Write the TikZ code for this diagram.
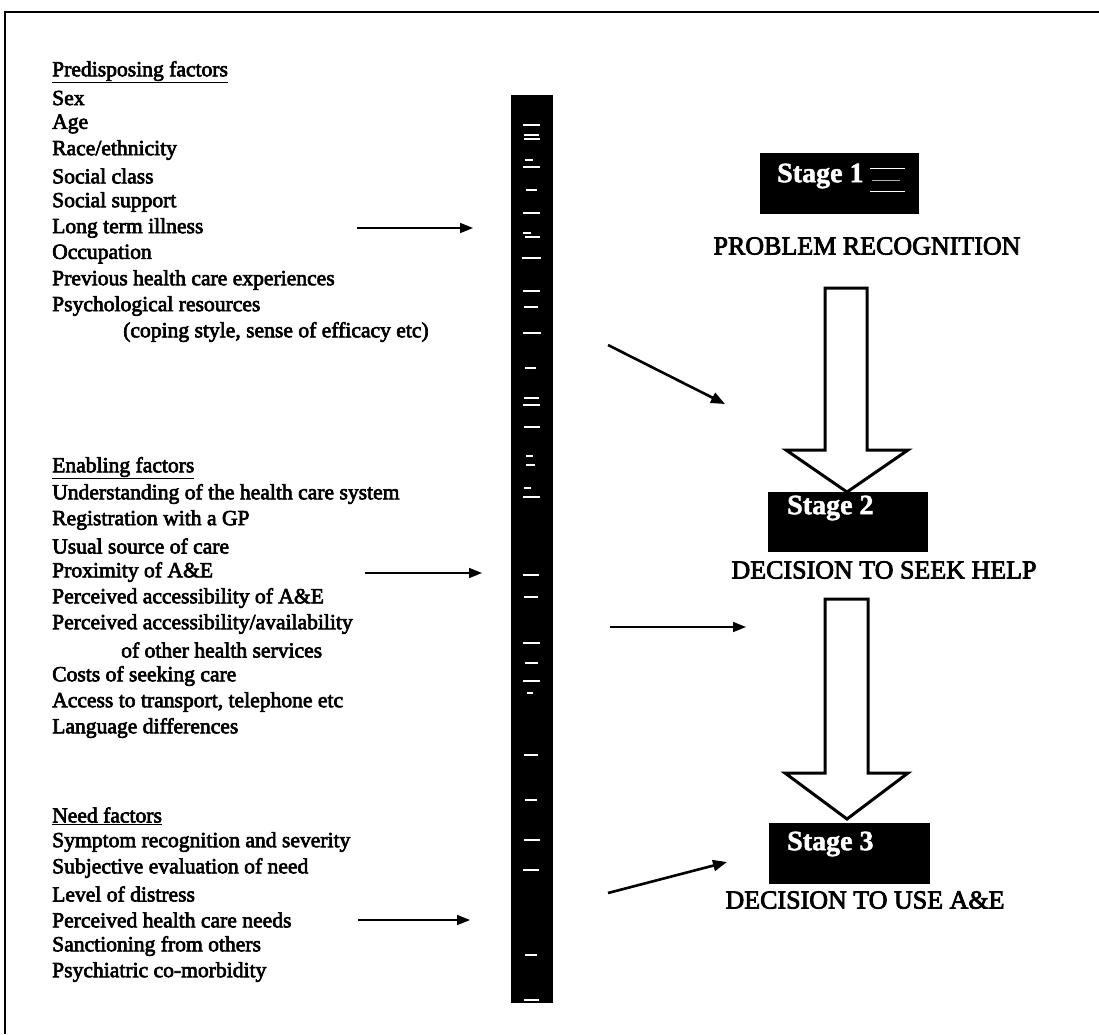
\documentclass[tikz,border=0pt]{standalone}
\usepackage{fontspec}
\setmainfont{Liberation Serif}
\newfontfamily\scanfont{Liberation Serif}[FakeBold=3]
\newfontfamily\scanbold{Liberation Serif Bold}[FakeBold=1.5]
\usetikzlibrary{arrows.meta}
\begin{document}
\begin{tikzpicture}[x=1pt,y=-1pt,
  item/.style={anchor=west, inner sep=0pt, font=\fontsize{21.6}{26}\scanfont},
  stagelabel/.style={inner sep=0pt, font=\fontsize{26}{30}\scanfont},
  stagebox/.style={fill=black, draw=black, inner sep=0pt},
  stagetext/.style={anchor=west, inner sep=0pt, text=white, font=\fontsize{28}{32}\scanbold},
  thinarrow/.style={line width=1.6pt, -{Triangle[length=13pt,width=10pt]}},
  diagarrow/.style={line width=2.6pt, -{Triangle[length=14pt,width=11pt]}},
  hollow/.style={draw=black, fill=white, line width=3pt, line join=miter},
  speck/.style={draw=white, line width=1.4pt}
]
\useasboundingbox (0,0) rectangle (1099,1034);
\fill[white] (0,0) rectangle (1099,1034);
% frame
\draw[line width=2pt] (1099,12) -- (5,12) -- (5,1034);

% central bar
\node[fill=black, inner sep=0pt, minimum width=42pt, minimum height=908pt] (bar) at (532,549) {};
\foreach \yy/\xa/\xb in {125/523/540,135/524/539,139/524/540,160/525/533,167/523/540,190/526/537,213/523/540,233/523/531,237/525/540,258/522/541,291/523/540,307/524/538,333/523/541,368/525/536,398/524/539,405/523/540,427/524/540,456/526/533,465/526/535,488/524/531,497/523/540,575/523/539,597/524/538,643/523/540,663/525/538,681/523/540,693/527/533,755/524/538,800/525/537,840/524/540,870/523/539,955/525/537,1000/524/539}
  \draw[speck] (\xa,\yy) -- (\xb,\yy);

% Predisposing factors
\node[item] (p0) at (52,72) {\underline{Predisposing factors}};
\node[item] (p1) at (52,98) {Sex};
\node[item] (p2) at (52,124) {Age};
\node[item] (p3) at (52,150) {Race/ethnicity};
\node[item] (p4) at (52,176) {Social class};
\node[item] (p5) at (52,202) {Social support};
\node[item] (p6) at (52,228) {Long term illness};
\node[item] (p7) at (52,254) {Occupation};
\node[item] (p8) at (52,280) {Previous health care experiences};
\node[item] (p9) at (52,306) {Psychological resources};
\node[item] (p10) at (123,332) {(coping style, sense of efficacy etc)};

% Enabling factors
\node[item] (e0) at (52,468) {\underline{Enabling factors}};
\node[item] (e1) at (52,494) {Understanding of the health care system};
\node[item] (e2) at (52,520) {Registration with a GP};
\node[item] (e3) at (52,546) {Usual source of care};
\node[item] (e4) at (52,572) {Proximity of A\&E};
\node[item] (e5) at (52,598) {Perceived accessibility of A\&E};
\node[item] (e6) at (52,624) {Perceived accessibility/availability};
\node[item] (e7) at (121,650) {of other health services};
\node[item] (e8) at (52,676) {Costs of seeking care};
\node[item] (e9) at (52,702) {Access to transport, telephone etc};
\node[item] (e10) at (52,728) {Language differences};

% Need factors
\node[item] (n0) at (52,816) {\underline{Need factors}};
\node[item] (n1) at (52,842) {Symptom recognition and severity};
\node[item] (n2) at (52,868) {Subjective evaluation of need};
\node[item] (n3) at (52,894) {Level of distress};
\node[item] (n4) at (52,920) {Perceived health care needs};
\node[item] (n5) at (52,946) {Sanctioning from others};
\node[item] (n6) at (52,972) {Psychiatric co-morbidity};

% Stages
\node[stagebox, minimum width=158pt, minimum height=60pt] (s1) at (839,183) {};
\node[stagetext] (s1t) at (777,176) {Stage 1};
\draw[draw=white, line width=1pt] (870,168) -- (905,168);
\draw[draw=gray!60, line width=0.8pt] (872,180) -- (900,180);
\draw[draw=white, line width=1pt] (870,191) -- (905,191);
\node[stagelabel] (l1) at (867,246) {PROBLEM RECOGNITION};

\node[stagebox, minimum width=159pt, minimum height=59pt] (s2) at (847.5,521.5) {};
\node[stagetext] (s2t) at (787,508) {Stage 2};
\node[stagelabel] (l2) at (884,570) {DECISION TO SEEK HELP};

\node[stagebox, minimum width=160pt, minimum height=60pt] (s3) at (849,853) {};
\node[stagetext] (s3t) at (787,844) {Stage 3};
\node[stagelabel] (l3) at (865,900) {DECISION TO USE A\&E};

% big hollow arrows
\draw[hollow] (825,288) -- (867,288) -- (867,450) -- (908,450) -- (847,492) -- (786,450) -- (825,450) -- cycle;
\draw[hollow] (825,599) -- (868,599) -- (868,773) -- (908,773) -- (847,819) -- (785,773) -- (825,773) -- cycle;

% small arrows
\coordinate (a1s) at (357,228); \coordinate (a1e) at (473,228);
\coordinate (a2s) at (608,345); \coordinate (a2e) at (725,404);
\coordinate (a3s) at (365,573); \coordinate (a3e) at (482,573);
\coordinate (a4s) at (610,627); \coordinate (a4e) at (746,627);
\coordinate (a5s) at (358,920); \coordinate (a5e) at (470,920);
\coordinate (a6s) at (608,893); \coordinate (a6e) at (727,862);
\draw[thinarrow] (a1s) -- (a1e);
\draw[diagarrow] (a2s) -- (a2e);
\draw[thinarrow] (a3s) -- (a3e);
\draw[thinarrow] (a4s) -- (a4e);
\draw[thinarrow] (a5s) -- (a5e);
\draw[diagarrow] (a6s) -- (a6e);
\end{tikzpicture}
\end{document}
